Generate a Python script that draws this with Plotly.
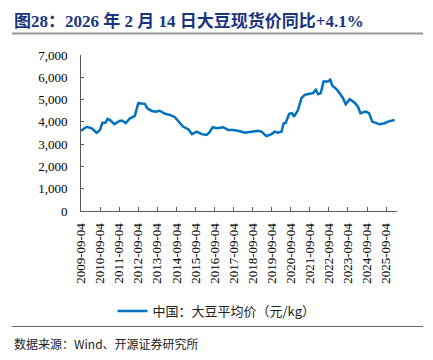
import plotly.graph_objects as go

dates = ["2009-09-04","2009-12-25","2010-03-28","2010-07-01","2010-09-01","2010-10-20","2010-12-15",
"2011-01-25","2011-03-15","2011-06-05","2011-09-20","2011-11-05","2012-01-08","2012-04-01","2012-07-01",
"2012-09-05","2013-01-10","2013-02-25","2013-05-20","2013-08-08","2013-10-20","2014-01-30","2014-05-05",
"2014-08-08","2014-10-10","2015-01-15","2015-04-20","2015-07-01","2015-09-28","2016-01-01","2016-04-05",
"2016-05-25","2016-08-01","2016-10-20","2017-02-18","2017-05-27","2017-08-28","2017-12-01","2018-04-08",
"2018-08-15","2018-12-15","2019-02-20","2019-05-25","2019-09-01","2019-11-01","2020-01-01","2020-03-10",
"2020-04-22","2020-06-01","2020-08-04","2020-10-01","2020-11-06","2021-01-22","2021-03-28","2021-05-30",
"2021-09-02","2021-11-06","2021-12-28","2022-02-10","2022-04-01","2022-05-26","2022-08-18","2022-10-01",
"2022-11-10","2023-01-26","2023-03-28","2023-06-02","2023-07-24","2023-10-08","2024-01-12","2024-03-14",
"2024-05-01","2024-08-08","2024-10-12","2024-12-14","2025-05-01","2025-08-08","2025-10-10","2026-02-14"]
prices = [3600,3780,3710,3510,3630,3960,3960,
4130,4080,3900,4050,4050,3940,4160,4270,
4840,4810,4610,4490,4460,4500,4360,4310,
4210,4040,3780,3670,3450,3560,3450,3410,
3510,3760,3710,3760,3630,3630,3600,3510,
3560,3600,3560,3360,3450,3560,3510,3560,
3940,3960,4360,4390,4230,4540,5060,5210,
5260,5290,5440,5240,5290,5810,5810,5890,
5620,5470,5290,5060,4790,5020,4860,4680,
4390,4460,4390,4010,3890,3940,4010,4080]

tick_labels = ["%d-09-04" % y for y in range(2009, 2026)]
series_name = "中国：大豆平均价（元/kg）"
title_text = "图28：2026 年 2 月 14 日大豆现货价同比+4.1%"
source_text = "数据来源：Wind、开源证券研究所"

W, H = 433, 360
L, R, T, B = 81, 397, 55, 211

def px(x):
    return (x - L) / (R - L)

def py(y):
    return (B - y) / (B - T)

serif = "Liberation Serif, Noto Sans CJK SC"
axis_col = "#595959"

fig = go.Figure()
fig.add_trace(go.Scatter(x=dates, y=prices, mode="lines", name=series_name,
                         line=dict(color="#0070C0", width=2.5)))

fig.update_layout(
    width=W, height=H,
    margin=dict(l=L, r=W - R, t=T, b=H - B, autoexpand=False),
    paper_bgcolor="white", plot_bgcolor="white",
    font=dict(family=serif, size=13, color="#000"),
    showlegend=True,
    legend=dict(orientation="h", xref="container", yref="container",
                x=0.5, xanchor="center", y=1 - 311 / H, yanchor="middle",
                font=dict(family="Noto Sans CJK SC", size=13, color="#222"),
                itemwidth=30, bgcolor="rgba(0,0,0,0)"),
    xaxis=dict(type="date", range=["2009-09-04", "2026-04-01"],
               tickvals=tick_labels, ticktext=tick_labels, tickangle=-90,
               ticks="inside", ticklen=4, tickcolor=axis_col,
               showline=True, linecolor=axis_col, linewidth=1,
               showgrid=False, zeroline=False, automargin=False,
               tickfont=dict(family=serif, size=13, color="#000"),
               ticklabelstandoff=6),
    yaxis=dict(range=[0, 7000], dtick=1000, tickformat=",",
               ticks="inside", ticklen=3, tickcolor=axis_col,
               showline=True, linecolor=axis_col, linewidth=1,
               showgrid=False, zeroline=False, automargin=False,
               tickfont=dict(family=serif, size=13, color="#000"),
               ticklabelstandoff=10),
)

fig.add_annotation(text="<b>" + title_text + "</b>", xref="paper", yref="paper",
                   x=px(12), y=py(21), xanchor="left", yanchor="middle", showarrow=False,
                   font=dict(family=serif, size=17, color="#1a3580"))
fig.add_shape(type="line", xref="paper", yref="paper", x0=px(12), x1=px(423),
              y0=py(33.5), y1=py(33.5), line=dict(color="#999999", width=2))
fig.add_shape(type="line", xref="paper", yref="paper", x0=px(12), x1=px(423),
              y0=py(326.5), y1=py(326.5), line=dict(color="#666666", width=1))
fig.add_annotation(text=source_text, xref="paper", yref="paper",
                   x=px(12), y=py(343), xanchor="left", yanchor="middle", showarrow=False,
                   font=dict(family="Noto Sans CJK SC", size=12, color="#222"))

fig.write_html("out.html", config={"displayModeBar": False},
               post_script="document.body.style.margin='0px';")
